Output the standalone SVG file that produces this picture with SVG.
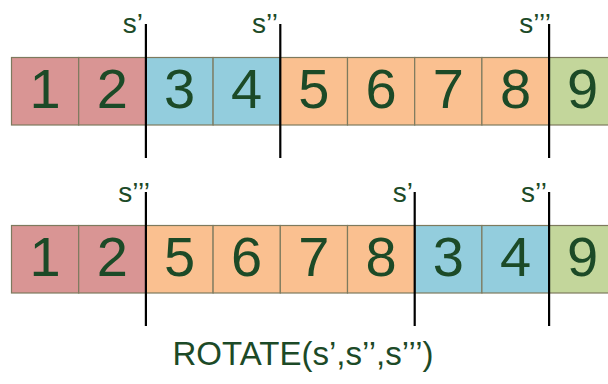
<svg xmlns="http://www.w3.org/2000/svg" width="608" height="384" viewBox="0 0 608 384">
<style>
.c{stroke:#7d7a5e;stroke-width:1.2}
.r{fill:#d99594}.b{fill:#93cddd}.o{fill:#fac090}.g{fill:#c3d69b}
.d{font-family:"Liberation Sans",Arial,sans-serif;font-size:56px;fill:#1c4a27;text-anchor:middle}
.l{font-family:"Liberation Sans",Arial,sans-serif;font-size:28px;fill:#1c4a27;text-anchor:end}
.t{font-family:"Liberation Sans",Arial,sans-serif;font-size:33px;fill:#1c4a27;text-anchor:middle}
.s{stroke:#000;stroke-width:2.2}
</style>
<rect width="608" height="384" fill="#fff"/>
<g id="row1">
<g id="r1c1"><rect class="c r" x="11.5" y="57.5" width="67.2" height="67.5"/><text class="d" x="45.1" y="108">1</text></g>
<g id="r1c2"><rect class="c r" x="78.7" y="57.5" width="67.2" height="67.5"/><text class="d" x="112.3" y="108">2</text></g>
<g id="r1c3"><rect class="c b" x="145.9" y="57.5" width="67.2" height="67.5"/><text class="d" x="179.5" y="108">3</text></g>
<g id="r1c4"><rect class="c b" x="213.1" y="57.5" width="67.2" height="67.5"/><text class="d" x="246.7" y="108">4</text></g>
<g id="r1c5"><rect class="c o" x="280.3" y="57.5" width="67.2" height="67.5"/><text class="d" x="313.9" y="108">5</text></g>
<g id="r1c6"><rect class="c o" x="347.5" y="57.5" width="67.2" height="67.5"/><text class="d" x="381.1" y="108">6</text></g>
<g id="r1c7"><rect class="c o" x="414.7" y="57.5" width="67.2" height="67.5"/><text class="d" x="448.3" y="108">7</text></g>
<g id="r1c8"><rect class="c o" x="481.9" y="57.5" width="67.2" height="67.5"/><text class="d" x="515.5" y="108">8</text></g>
<g id="r1c9"><rect class="c g" x="549.1" y="57.5" width="67.2" height="67.5"/><text class="d" x="582.7" y="108">9</text></g>
</g>
<g id="row2">
<g id="r2c1"><rect class="c r" x="11.5" y="225.5" width="67.2" height="67.5"/><text class="d" x="45.1" y="276">1</text></g>
<g id="r2c2"><rect class="c r" x="78.7" y="225.5" width="67.2" height="67.5"/><text class="d" x="112.3" y="276">2</text></g>
<g id="r2c3"><rect class="c o" x="145.9" y="225.5" width="67.2" height="67.5"/><text class="d" x="179.5" y="276">5</text></g>
<g id="r2c4"><rect class="c o" x="213.1" y="225.5" width="67.2" height="67.5"/><text class="d" x="246.7" y="276">6</text></g>
<g id="r2c5"><rect class="c o" x="280.3" y="225.5" width="67.2" height="67.5"/><text class="d" x="313.9" y="276">7</text></g>
<g id="r2c6"><rect class="c o" x="347.5" y="225.5" width="67.2" height="67.5"/><text class="d" x="381.1" y="276">8</text></g>
<g id="r2c7"><rect class="c b" x="414.7" y="225.5" width="67.2" height="67.5"/><text class="d" x="448.3" y="276">3</text></g>
<g id="r2c8"><rect class="c b" x="481.9" y="225.5" width="67.2" height="67.5"/><text class="d" x="515.5" y="276">4</text></g>
<g id="r2c9"><rect class="c g" x="549.1" y="225.5" width="67.2" height="67.5"/><text class="d" x="582.7" y="276">9</text></g>
</g>
<g id="splits">
<line class="s" x1="145.9" y1="24" x2="145.9" y2="158"/>
<line class="s" x1="280.3" y1="24" x2="280.3" y2="158"/>
<line class="s" x1="549.1" y1="24" x2="549.1" y2="158"/>
<line class="s" x1="145.9" y1="192" x2="145.9" y2="326"/>
<line class="s" x1="414.7" y1="192" x2="414.7" y2="326"/>
<line class="s" x1="549.1" y1="192" x2="549.1" y2="326"/>
</g>
<g id="labels">
<text class="l" x="143" y="33">s’</text>
<text class="l" x="278" y="33">s’’</text>
<text class="l" x="551" y="33">s’’’</text>
<text class="l" x="150" y="202">s’’’</text>
<text class="l" x="413" y="202">s’</text>
<text class="l" x="547" y="202">s’’</text>
<text class="t" x="303" y="365">ROTATE(s’,s’’,s’’’)</text>
</g>
</svg>
